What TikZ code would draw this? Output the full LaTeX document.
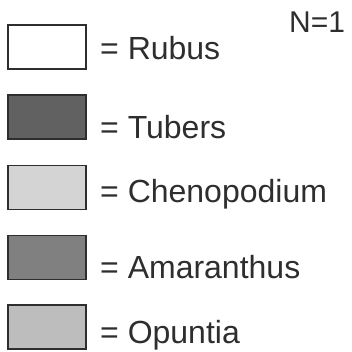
\documentclass[tikz,border=0pt]{standalone}
\usepackage{fontspec}
\setmainfont{Liberation Sans}
\definecolor{inkgray}{HTML}{2E2E2E}
\tikzset{
    keybox/.style={draw=inkgray, line width=1.2pt, minimum width=78pt, minimum height=44pt, inner sep=0pt},
    keylab/.style={anchor=base west, inner sep=0pt, text=inkgray, font=\fontsize{32}{34}\selectfont}
}
\begin{document}
\begin{tikzpicture}[x=1pt, y=1pt]
    \useasboundingbox (0,0) rectangle (352,351);
    % legend entries
    \foreach \i/\yb/\yt/\col/\lab in {1/304/291/white/Rubus, 2/234/213/black!62/Tubers,
            3/163.5/149/black!17/Chenopodium, 4/93.5/73/black!50/Amaranthus, 5/24/8/black!26/Opuntia} {
        \node[keybox, fill=\col] (box\i) at (47,\yb) {};
        \node[keylab] (lab\i) at (100,\yt) {= \lab};
    }
    % sample size
    \node[keylab, font=\fontsize{30}{32}\selectfont] (size) at (289,318) {N=1};
\end{tikzpicture}
\end{document}
